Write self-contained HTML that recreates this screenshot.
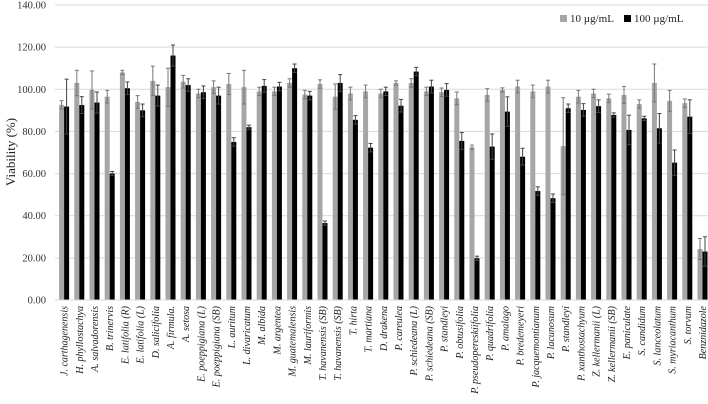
<!DOCTYPE html>
<html><head><meta charset="utf-8"><style>
body{margin:0;background:#fff;}
svg{display:block;font-family:"Liberation Serif",serif;}
</style></head><body>
<svg id="chart" width="708" height="404" viewBox="0 0 708 404"></svg>
<script>
const categories=["J. carthagenensis","H. phyllostachya","A. salvadorensis","B. trinervis","E. latifolia (R)","E. latifolia (L)","D. salicifolia","A. firmula.","A. setosa","E. poeppigiana (L)","E. poeppigiana (SB)","L. auritum","L. divaricatum","M. albida","M. argentea","M. guatemalensis","M. lauriformis","T. havanensis (SB)","T. havanensis (SB)","T. hirta","T. martiana","D. drakena","P. careulea","P. schiedeana (L)","P. schiedeana (SB)","P. standleyi","P. obtusifolia","P. pseudopereskiifolia","P. quadrifolia","P. amalago","P. bredemeyeri","P. jacquemontianum","P. lacunosum","P. standleyi","P. xanthostachyum","Z. kellermanii (L)","Z. kellermanii (SB)","E. paniculate","S. candidum","S. lanceolatum","S. myriacanthum","S. torvum","Benznidazole"];
const series10=[92.6,103,99.7,96.5,108,94,104,101,103.6,98,101,102.5,101,99,99,103,97.5,102.5,96.5,98,99,98,103,103,99,98.6,95.7,72.5,97.3,99.7,101.3,99,101.3,73,96.5,98,95.7,97.3,93,103,94.5,93.4,24.2];
const series100=[91.8,92.5,93.7,60,100.5,90,97,116,102,98.6,97,75,82,101.6,101.3,110,97,36.5,103,85.5,72.3,99,92.2,108.4,101.3,99.7,75.5,19.8,72.8,89.4,68,51.7,48.3,91,90.2,92,87.8,80.7,86.2,81.5,65.2,87,23];
const err10=[2,6,9,3,1,3,7,9,3,2,3,5,8,2,2,2,2,2,6,3,3,2,1,2,2,2,3,1,3,1,3,3,3,23,3,2,2,4,2,9,5,2,5];
const err100=[13,4,5,1,3,3,5,5,3,3,4,2,1,3,2,2,2,1,4,2,2,2,3,2,3,3,4,1,6,7,4,2,2,2,3,3,1,7,1,7,6,8,7];
const yTicks=[0,20,40,60,80,100,120,140];
const svg=document.getElementById('chart');
const NS='http://www.w3.org/2000/svg';
const x0=56.5,step=15.2,y0=300,yTop=5,yMax=140;
function yScale(v){return y0-(v/yMax)*(y0-yTop);}
function xCenter(i){return x0+step*(i+0.5);}
function mk(tag,attrs){const e=document.createElementNS(NS,tag);for(const k in attrs)e.setAttribute(k,attrs[k]);svg.appendChild(e);return e;}
yTicks.forEach(t=>{
  const g=mk('line',{x1:55,x2:708,y1:yScale(t),y2:yScale(t),stroke:'#d9d9d9','stroke-width':1});
  
  
  const tx=mk('text',{x:46,y:yScale(t)+3.5,'text-anchor':'end','font-size':10.5,fill:'#333'});
  tx.textContent=t.toFixed(2);
  
  
});
const yt=mk('text',{x:0,y:0,transform:'translate(15,152) rotate(-90)','text-anchor':'middle','font-size':13,fill:'#222'});
yt.textContent='Viability (%)';


function errBar(cx,v,e,col){
  const a=yScale(v+e),b=yScale(Math.max(0,v-e));
  const l=mk('line',{x1:cx,x2:cx,y1:a,y2:b,stroke:col,'stroke-width':1});
  
  
  mk('line',{x1:cx-2,x2:cx+2,y1:a,y2:a,stroke:col,'stroke-width':1});
  mk('line',{x1:cx-2,x2:cx+2,y1:b,y2:b,stroke:col,'stroke-width':1});
}
categories.forEach((c,i)=>{
  const cx=xCenter(i);
  const g=mk('rect',{x:cx-5,y:yScale(series10[i]),width:5,height:y0-yScale(series10[i]),fill:'#a6a6a6'});
  
  
  const b=mk('rect',{x:cx,y:yScale(series100[i]),width:5,height:y0-yScale(series100[i]),fill:'#000'});
  
  
  errBar(cx-2.5,series10[i],err10[i],'#777');
  errBar(cx+2.5,series100[i],err100[i],'#444');
  const t=mk('text',{x:0,y:0,transform:`translate(${cx+3.5},306) rotate(-90)`,'text-anchor':'end','font-size':10,'font-style':'italic',fill:'#222'});
  t.textContent=c;
  
  
});
const ax=mk('line',{x1:55,x2:708,y1:y0,y2:y0,stroke:'#d9d9d9','stroke-width':1});


const l1=mk('rect',{x:560,y:15,width:7,height:7,fill:'#a6a6a6'});


const lt1=mk('text',{x:570,y:22,'font-size':11,fill:'#222'});lt1.textContent='10 µg/mL';


const l2=mk('rect',{x:624,y:15,width:7,height:7,fill:'#000'});


const lt2=mk('text',{x:634,y:22,'font-size':11,fill:'#222'});lt2.textContent='100 µg/mL';


</script>
</body></html>
